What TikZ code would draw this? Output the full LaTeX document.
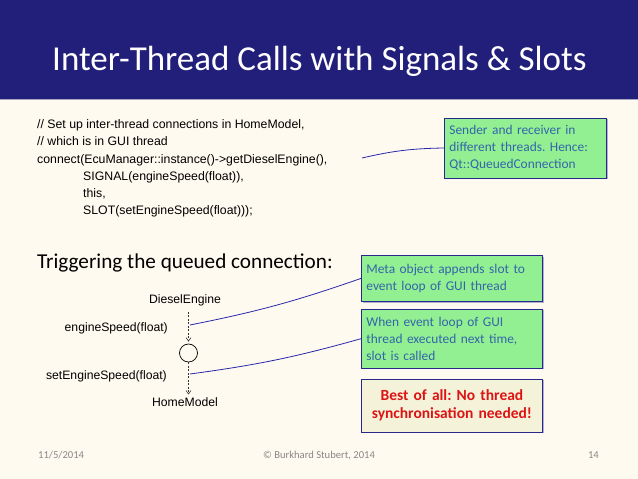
\documentclass[tikz,border=0pt]{standalone}
\usepackage{fontspec}
\setmainfont{Carlito}
\newfontfamily\arial{Liberation Sans}
\usepackage{xcolor}
\usepackage{tikz}
\usetikzlibrary{arrows.meta}
\usetikzlibrary{shadows}
\usetikzlibrary{positioning}
\definecolor{fundo}{RGB}{255,250,240}
\definecolor{azulcab}{RGB}{34,31,122}
\definecolor{verdenota}{RGB}{146,240,146}
\definecolor{bege}{RGB}{245,242,218}
\definecolor{azulborda}{RGB}{40,40,140}
\definecolor{azultexto}{RGB}{52,100,170}
\definecolor{azullinha}{RGB}{40,40,170}
\definecolor{vermelho}{RGB}{220,20,20}
\definecolor{cinza}{RGB}{135,135,135}
\newcommand{\semhifen}{\hyphenpenalty=10000\exhyphenpenalty=10000\frenchspacing}
\tikzset{
  nota/.style={draw=azulborda, line width=0.8pt, fill=verdenota, text=azultexto, align=left, text width=#1, inner sep=5pt, font=\fontsize{13.4}{17.2}\selectfont\semhifen, drop shadow={shadow xshift=1.2pt, shadow yshift=-1.2pt, opacity=0.35, fill=azulborda}},
  nota/.default=171pt,
  destaque/.style={nota=#1, fill=bege, text=vermelho, align=center, font=\fontsize{15.5}{18.5}\selectfont\bfseries\semhifen},
  destaque/.default=171pt,
  seta/.style={-{Straight Barb[length=3.5pt,width=5pt]}, dashed, dash pattern=on 2pt off 1.5pt, line width=0.6pt, black!80},
  ligacao/.style={draw=azullinha, line width=0.8pt},
  rotulo/.style={inner sep=0pt, font=\arial\fontsize{12.2}{14}\selectfont},
  rodape/.style={inner sep=0pt, text=cinza, font=\fontsize{10.6}{12}\selectfont},
}
\begin{document}
\begin{tikzpicture}[x=1pt, y=1pt]
  \useasboundingbox (0,0) rectangle (638,479);
  \fill[fundo] (0,0) rectangle (638,479);
  % cabecalho
  \fill[azulcab] (0,380) rectangle (638,479);
  \draw[line width=1pt, azulcab!40] (0,379.5) -- (638,379.5);
  \node[anchor=base, inner sep=0pt, text=white, font=\fontsize{35}{40}\selectfont] (titulo) at (319.5,408) {Inter-Thread Calls with Signals \& Slots};

  % codigo
  \node[anchor=north west, inner sep=0pt, align=left, font=\arial\fontsize{12.3}{17.2}\selectfont] (codigo) at (37,359.5) {%
    // Set up inter-thread connections in HomeModel,\\
    // which is in GUI thread\\
    connect(EcuManager::instance()->getDieselEngine(),\\
    \hspace*{46pt}SIGNAL(engineSpeed(float)),\\
    \hspace*{46pt}this,\\
    \hspace*{46pt}SLOT(setEngineSpeed(float)));};
  \coordinate (c0) at (362,321);
  \node[nota=152pt, minimum height=60pt, anchor=west] (b1) at (444,331) {Sender and receiver in different threads. Hence: Qt::QueuedConnection};
  \draw[ligacao] (c0) to[bend left=6] (b1.west);

  % disparo
  \node[anchor=base west, inner sep=0pt, font=\fontsize{21.2}{25}\selectfont] (disparo) at (37,210) {Triggering the queued connection:};
  \node[rotulo, anchor=base] (de) at (185,175) {DieselEngine};
  \node[draw, circle, line width=0.7pt, minimum size=18pt, inner sep=0pt] (circ) at (188.5,126) {};
  \node[rotulo, anchor=base] (hm) at (185,72) {HomeModel};
  \node[rotulo, anchor=base east] (sinal) at (168,147) {engineSpeed(float)};
  \node[rotulo, anchor=base east] (slot) at (167,99) {setEngineSpeed(float)};
  \draw[seta] ([yshift=-5pt]de.south -| circ) -- ([yshift=2pt]circ.north);
  \draw[seta] (circ.south) -- ([yshift=3.5pt]hm.north -| circ);
  \coordinate (p1) at (190,154);
  \coordinate (p2) at (190,105);

  \node[nota, minimum height=46pt, anchor=north west] (b2) at (361,224) {Meta object appends slot to event loop of GUI thread};
  \node[nota, minimum height=59pt, below=7pt of b2] (b3) {When event loop of GUI thread executed next time, slot is called};
  \node[destaque, minimum height=53pt, below=10pt of b3] (b4) {Best of all: No thread synchronisation needed!};
  \draw[ligacao] (p1) to[bend right=4] (b2.west);
  \draw[ligacao] (p2) to[bend right=4] (b3.west);

  % rodape
  \node[rodape, anchor=base west] (data) at (38,20) {11/5/2014};
  \node[rodape, anchor=base] (autor) at (319,20) {© Burkhard Stubert, 2014};
  \node[rodape, anchor=base east] (pagina) at (599,20) {14};
\end{tikzpicture}
\end{document}
